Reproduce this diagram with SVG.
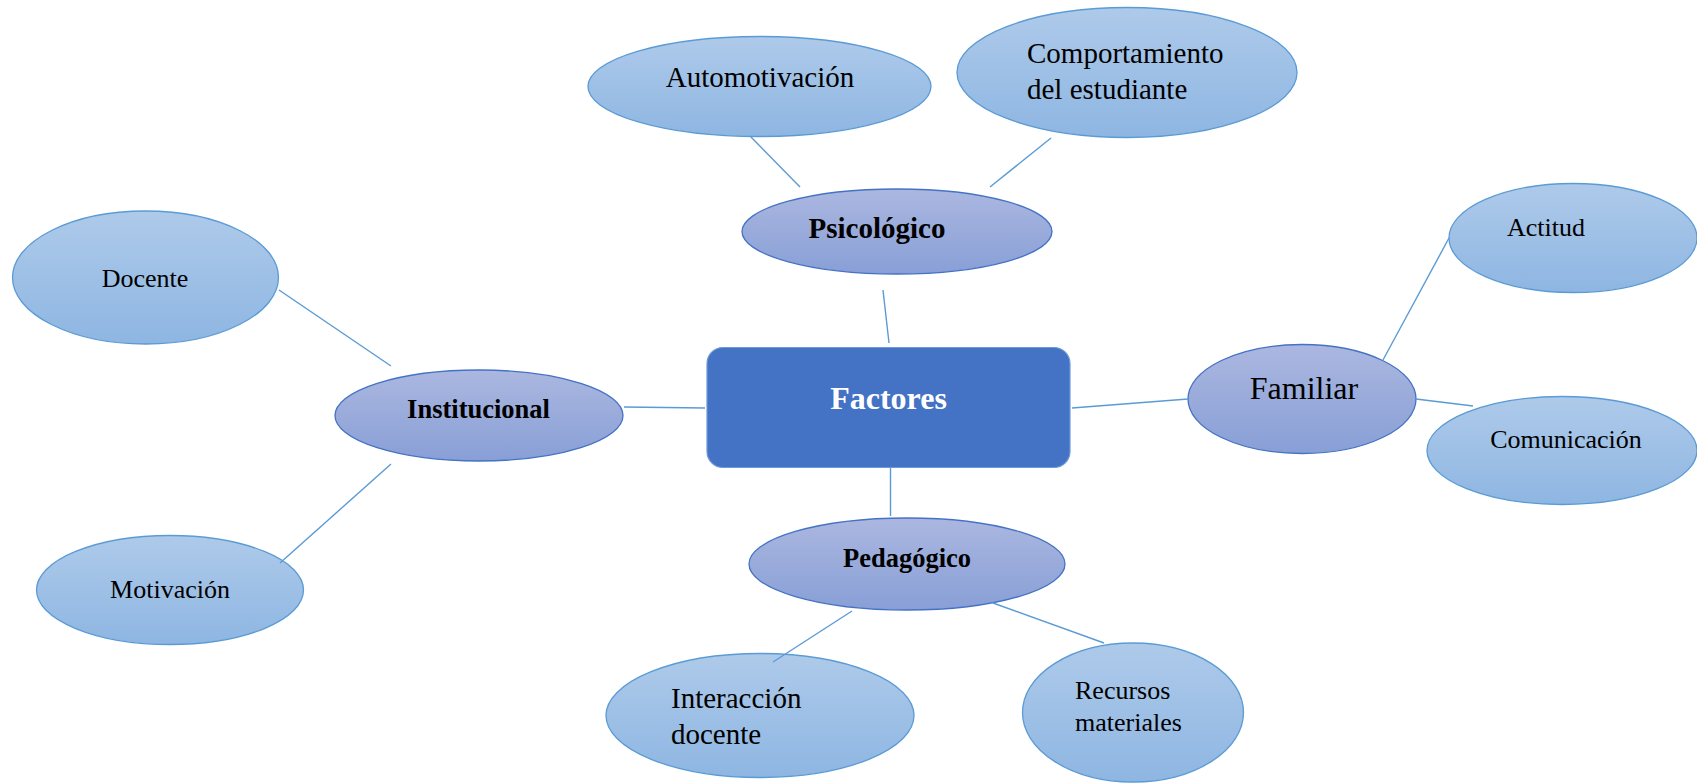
<svg xmlns="http://www.w3.org/2000/svg" width="1697" height="784" viewBox="0 0 1697 784">
<defs>
<linearGradient id="gOuter" x1="0" y1="0" x2="0" y2="1">
<stop offset="0" stop-color="#aecaea"/>
<stop offset="1" stop-color="#8eb6e2"/>
</linearGradient>
<linearGradient id="gMid" x1="0" y1="0" x2="0" y2="1">
<stop offset="0" stop-color="#abb7e0"/>
<stop offset="1" stop-color="#889fd6"/>
</linearGradient>
</defs>
<style>
.outer{fill:url(#gOuter);stroke:#5b9bd5;stroke-width:1.3}
.mid{fill:url(#gMid);stroke:#4472c4;stroke-width:1.3}
.conn line{stroke:#5b9bd5;stroke-width:1.4}
text{font-family:"Liberation Serif","Times New Roman",serif;fill:#000}
.b{font-weight:bold}
</style>
<g id="factores">
<rect x="707" y="347.5" width="363" height="120" rx="16" fill="#4472c4" stroke="#6d9bd8" stroke-width="1.2"/>
<text x="888.5" y="409" text-anchor="middle" class="b" font-size="32" style="fill:#fff">Factores</text>
</g>
<g id="psicologico">
<ellipse class="mid" cx="897" cy="231.5" rx="155" ry="42.5"/>
<text x="877" y="238" text-anchor="middle" class="b" font-size="29">Psicológico</text>
</g>
<g id="automotivacion">
<ellipse class="outer" cx="759.5" cy="86.5" rx="171.5" ry="50"/>
<text x="760" y="87" text-anchor="middle" font-size="29">Automotivación</text>
</g>
<g id="comportamiento">
<ellipse class="outer" cx="1127" cy="72.5" rx="170" ry="65"/>
<text x="1027" y="63" font-size="29">Comportamiento</text>
<text x="1027" y="99" font-size="29">del estudiante</text>
</g>
<g id="institucional">
<ellipse class="mid" cx="479" cy="415.5" rx="144" ry="45.5"/>
<text x="478.5" y="418" text-anchor="middle" class="b" font-size="26.5">Institucional</text>
</g>
<g id="docente">
<ellipse class="outer" cx="145.5" cy="277.5" rx="133" ry="66.5"/>
<text x="145" y="286.5" text-anchor="middle" font-size="26">Docente</text>
</g>
<g id="motivacion">
<ellipse class="outer" cx="170" cy="590" rx="133.5" ry="54.5"/>
<text x="170" y="598" text-anchor="middle" font-size="26">Motivación</text>
</g>
<g id="familiar">
<ellipse class="mid" cx="1302" cy="399" rx="114" ry="54.5"/>
<text x="1304" y="399" text-anchor="middle" font-size="32">Familiar</text>
</g>
<g id="actitud">
<ellipse class="outer" cx="1573" cy="238" rx="124" ry="54.5"/>
<text x="1546" y="235.5" text-anchor="middle" font-size="26">Actitud</text>
</g>
<g id="comunicacion">
<ellipse class="outer" cx="1562" cy="450.5" rx="135" ry="54"/>
<text x="1566" y="448" text-anchor="middle" font-size="26">Comunicación</text>
</g>
<g id="pedagogico">
<ellipse class="mid" cx="907" cy="564" rx="158" ry="46"/>
<text x="907" y="566.5" text-anchor="middle" class="b" font-size="26.5">Pedagógico</text>
</g>
<g id="interaccion">
<ellipse class="outer" cx="760" cy="715.5" rx="154" ry="62"/>
<text x="671" y="708" font-size="29">Interacción</text>
<text x="671" y="744" font-size="29">docente</text>
</g>
<g id="recursos">
<ellipse class="outer" cx="1133" cy="712.5" rx="110.5" ry="69.5"/>
<text x="1075" y="699" font-size="26">Recursos</text>
<text x="1075" y="731" font-size="26">materiales</text>
</g>
<g class="conn" id="connectors">
<line x1="750" y1="136" x2="800" y2="187"/>
<line x1="1051" y1="138" x2="990" y2="187"/>
<line x1="883" y1="290" x2="889" y2="343"/>
<line x1="279" y1="290" x2="391" y2="366"/>
<line x1="391" y1="464" x2="280" y2="563"/>
<line x1="624" y1="407" x2="705" y2="408"/>
<line x1="1072" y1="408" x2="1188" y2="399"/>
<line x1="1449" y1="238" x2="1383" y2="360"/>
<line x1="1416" y1="399" x2="1473" y2="406"/>
<line x1="890.5" y1="468" x2="890.5" y2="516"/>
<line x1="852" y1="611" x2="773" y2="662"/>
<line x1="993" y1="603" x2="1104" y2="643"/>
</g>
</svg>
